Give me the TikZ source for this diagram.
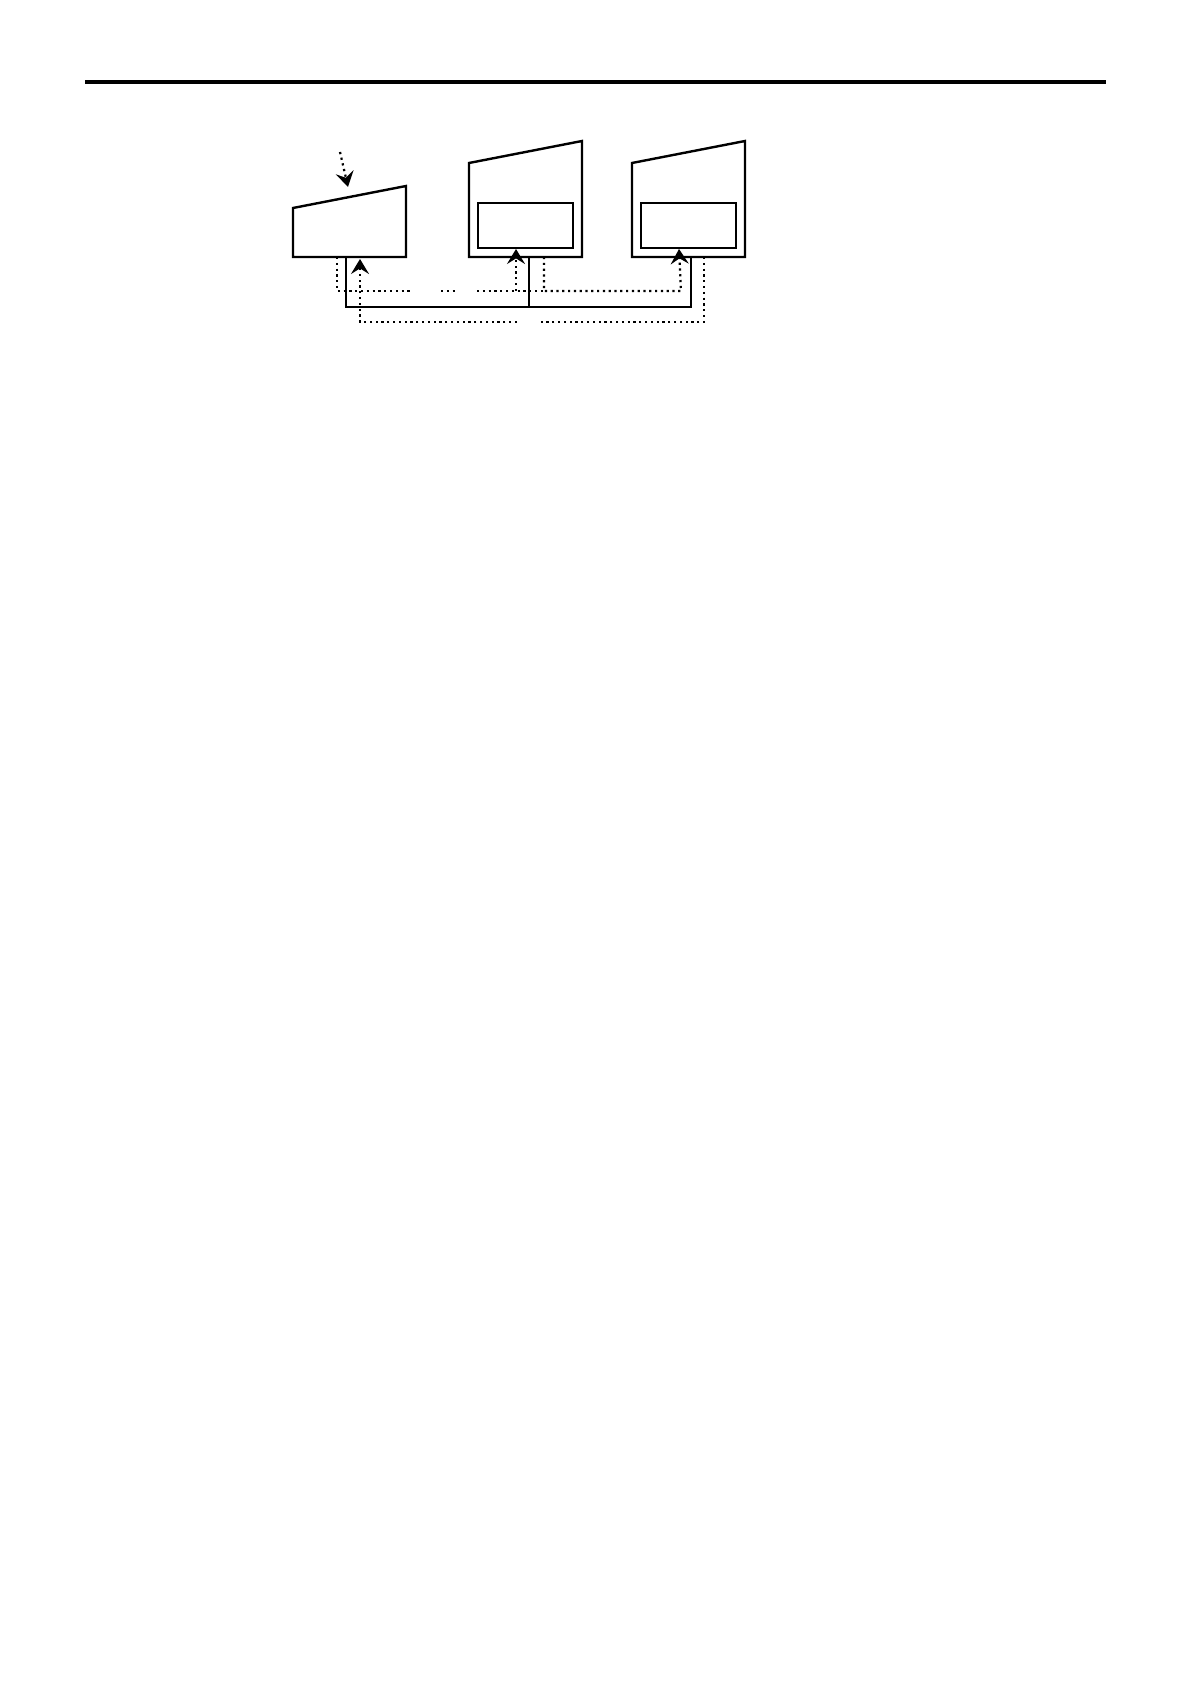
\documentclass[tikz,border=0pt]{standalone}
\usetikzlibrary{arrows.meta}
\begin{document}
\begin{tikzpicture}
  [x=.5pt,y=-.5pt
  ,unit/.style={line width=1.2pt,line join=miter}
  ,panel/.style={line width=.55pt}
  ,wire/.style={line width=1pt}
  ,thinwire/.style={line width=.8pt}
  ,sig/.style={line width=1.1pt,dash pattern=on 1.1pt off 1.8pt}
  ,tip/.style={-{Stealth[length=7.5pt,width=9pt,inset=2.8pt]}}
  ]
    \useasboundingbox (0,0) rectangle (1190,1684);
    \draw[line width=2pt] (85,82) -- (1106,82);
    % first unit, low roof
    \draw[unit] (293,257) -- (293,208) -- (406,186) -- (406,257) -- cycle;
    \coordinate (roof1) at (348,187);
    \coordinate (feed) at (340,152);
    % the two tall units, each with a panel
    \foreach \x/\n in {469/2,632/3}{
      \draw[unit] (\x,257) -- (\x,163) -- (\x+113,141) -- (\x+113,257) -- cycle;
      \draw[panel] (\x+9,203) rectangle (\x+104,248);
      \coordinate (pan\n) at (\x+47,249);
    }
    % bus ends
    \coordinate (s1) at (346,257);
    \coordinate (s2) at (529,257);
    \coordinate (s3) at (691,257);
    \coordinate (d1) at (337,257);
    \coordinate (d2) at (544,257);
    \coordinate (d3) at (704,257);
    \coordinate (in1) at (360,259);
    % solid bus
    \draw[wire] (s1) -- ++(0,50) -| (s3);
    \draw[thinwire] (s2) -- ++(0,50);
    % dotted links
    \draw[sig,tip] (feed) -- (roof1);
    \draw[sig] (d1) |- (413,291);
    \draw[sig] (441,291) -- (455,291);
    \draw[sig] (477,291) -- (d2 |- 0,291);
    \draw[sig,tip] (516,291) -- (pan2);
    \draw[sig,tip] (d2) |- (681,291) -- (pan3);
    \draw[sig] (d3) |- (541,322);
    \draw[sig,tip] (517,322) -| (in1);
\end{tikzpicture}
\end{document}
